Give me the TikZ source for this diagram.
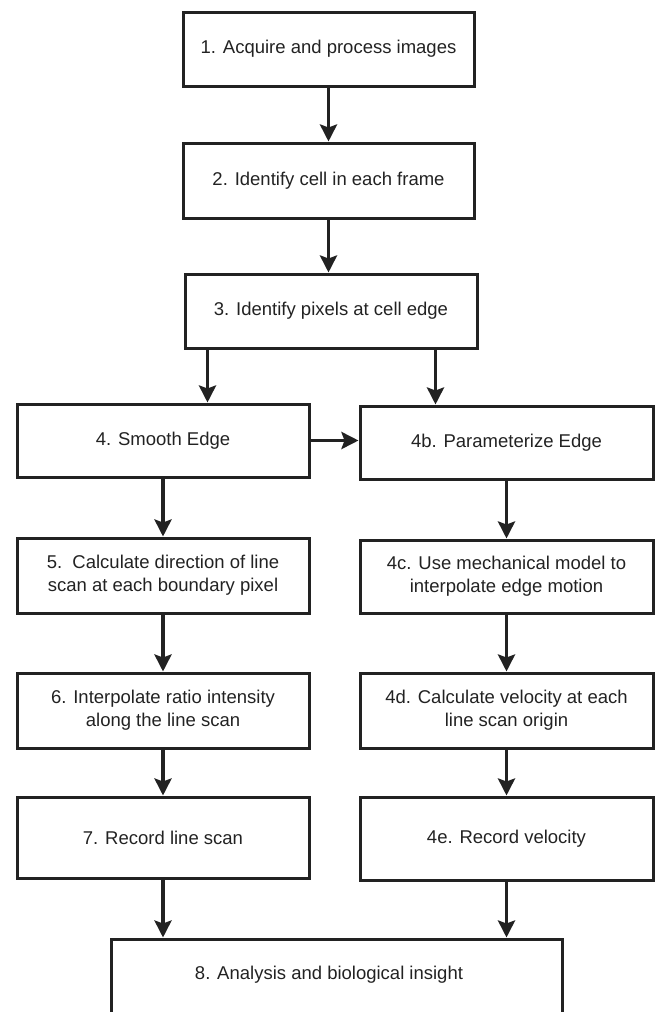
\documentclass[tikz,border=0pt]{standalone}
\usepackage{fontspec}
\setmainfont{Liberation Sans}
\usetikzlibrary{arrows.meta}
\definecolor{ink}{HTML}{222222}
\tikzset{txt/.style={font=\fontsize{18.5}{23}\selectfont,text=ink,align=center},
  stp/.style={txt,draw=ink,line width=3pt,minimum width=292pt,minimum height=74pt,inner sep=2pt},
  arr/.style={draw=ink,line width=3.5pt,-{Stealth[length=17pt,width=17pt,inset=3pt]}}}

\begin{document}
\begin{tikzpicture}[x=1pt,y=-1pt]
\useasboundingbox (0,0) rectangle (656,1012);
% centre column
\node[stp,minimum width=291pt] (b1) at (328.5,49) {1. Acquire and process images};
\node[stp,minimum width=291pt,minimum height=75pt] (b2) at (328.5,180.5) {2. Identify cell in each frame};
\node[stp] (b3) at (331,311) {3. Identify pixels at cell edge};
% left column
\node[stp,minimum height=73pt] (b4) at (163,440.5) {4. Smooth Edge};
\node[stp,minimum height=75pt] (b5) at (163,575.5) {5.\ \ Calculate direction of line\\scan at each boundary pixel};
\node[stp,minimum height=75pt] (b6) at (163,710.5) {6. Interpolate ratio intensity\\along the line scan};
\node[stp,minimum height=81pt] (b7) at (163,837.5) {7. Record line scan};
% right column
\node[stp,minimum width=293pt,minimum height=73pt] (b4b) at (506.5,442.5) {4b. Parameterize Edge};
\node[stp,minimum width=293pt,minimum height=73pt] (b4c) at (506.5,576.5) {4c. Use mechanical model to\\interpolate edge motion};
\node[stp,minimum width=293pt,minimum height=75pt] (b4d) at (506.5,710.5) {4d. Calculate velocity at each\\line scan origin};
\node[stp,minimum width=293pt,minimum height=83pt] (b4e) at (506.5,838.5) {4e. Record velocity};
% last box runs off the page
\node[stp,minimum width=451pt,minimum height=146pt] (b8) at (336.5,1012) {};
\node[txt] (b8t) at (329,975) {8. Analysis and biological insight};

\foreach \a/\b in {b1/b2,b2/b3,b4/b5,b5/b6,b6/b7,b7/b8,b4b/b4c,b4c/b4d,b4d/b4e,b4e/b8}
  \draw[arr] (\a.south) -- (\a.south |- \b.north);
\draw[arr] ([xshift=24pt]b3.south west) -- ([xshift=24pt]b3.south west |- b4.north);
\draw[arr] ([xshift=-43pt]b3.south east) -- ([xshift=-43pt]b3.south east |- b4b.north);
\draw[arr] (b4.east) -- (b4.east -| b4b.west);
\end{tikzpicture}
\end{document}
